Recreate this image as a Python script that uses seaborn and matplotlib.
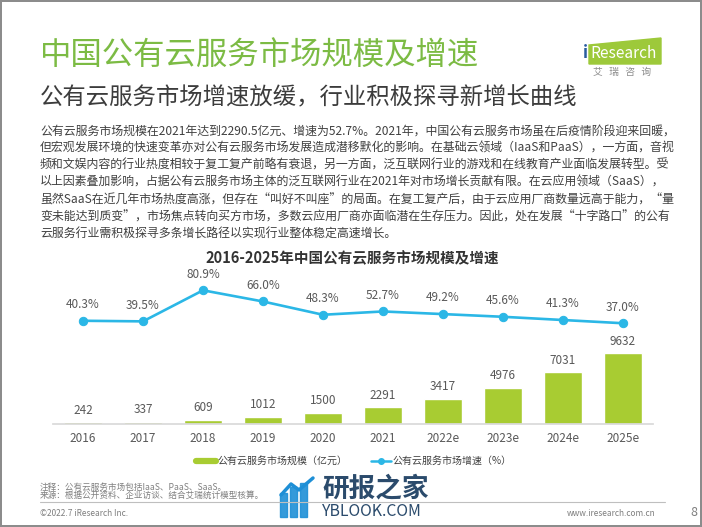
import numpy as np
import seaborn as sns
import matplotlib.pyplot as plt
from matplotlib.lines import Line2D
from matplotlib.patches import Polygon, Rectangle

years = ["2016", "2017", "2018", "2019", "2020", "2021", "2022e", "2023e", "2024e", "2025e"]
market_size = [242, 337, 609, 1012, 1500, 2291, 3417, 4976, 7031, 9632]
growth_rate = [40.3, 39.5, 80.9, 66.0, 48.3, 52.7, 49.2, 45.6, 41.3, 37.0]

title = "中国公有云服务市场规模及增速"
subtitle = "公有云服务市场增速放缓，行业积极探寻新增长曲线"
body_lines = [
    "公有云服务市场规模在2021年达到2290.5亿元、增速为52.7%。2021年，中国公有云服务市场虽在后疫情阶段迎来回暖，",
    "但宏观发展环境的快速变革亦对公有云服务市场发展造成潜移默化的影响。在基础云领域（IaaS和PaaS），一方面，音视",
    "频和文娱内容的行业热度相较于复工复产前略有衰退，另一方面，泛互联网行业的游戏和在线教育产业面临发展转型。受",
    "以上因素叠加影响，占据公有云服务市场主体的泛互联网行业在2021年对市场增长贡献有限。在云应用领域（SaaS），",
    "虽然SaaS在近几年市场热度高涨，但存在“叫好不叫座”的局面。在复工复产后，由于云应用厂商数量远高于能力，“量",
    "变未能达到质变”，市场焦点转向买方市场，多数云应用厂商亦面临潜在生存压力。因此，处在发展“十字路口”的公有",
    "云服务行业需积极探寻多条增长路径以实现行业整体稳定高速增长。",
]
chart_title = "2016-2025年中国公有云服务市场规模及增速"
legend_labels = ["公有云服务市场规模（亿元）", "公有云服务市场增速（%）"]
notes = ["注释：公有云服务市场包括IaaS、PaaS、SaaS。", "来源：根据公开资料、企业访谈、结合艾瑞统计模型核算。"]

GREEN = "#a8cc32"
BLUE = "#2bb7e6"
TEXT = "#404040"
GRAY = "#7f7f7f"

sns.set_theme(style="white")
plt.rcParams["font.family"] = ["Noto Sans CJK SC", "DejaVu Sans"]

W, H = 702, 527
fig = plt.figure(figsize=(W / 100, H / 100), dpi=100)
fig.patch.set_edgecolor("#8c8c8c")
fig.patch.set_linewidth(1.5)


def px(x, y):
    return x / W, 1 - y / H


# header
fig.text(*px(40, 55), title, fontsize=22.6, color="#7cbb44", va="center")
fig.text(*px(40, 98), subtitle, fontsize=16.8, color="#3c3c3c", va="center")

# logo
fig.patches.append(Polygon([px(589, 45), px(661, 38), px(661, 64), px(589, 64)],
                           closed=True, transform=fig.transFigure, color="#9dc93a"))
fig.text(*px(583, 53), "i", fontsize=12, color="#2a5d9e", va="center", fontweight="bold")
fig.text(*px(590, 54), "Research", fontsize=11.2, color="white", va="center")
fig.text(*px(622, 72), "艾   瑞   咨   询", fontsize=7, color="#8c8c8c", va="center", ha="center")

# body text
for i, line in enumerate(body_lines):
    fig.text(*px(40, 131 + i * 17.2), line, fontsize=8.6, color=TEXT, va="center")

fig.text(*px(352, 258), chart_title, fontsize=10.5, color="#333333", va="center",
         ha="center", fontweight="bold")

# chart
ax = fig.add_axes([53 / W, (H - 424) / H, 600 / W, 164 / H])
sns.barplot(x=years, y=market_size, color=GREEN, width=0.63, saturation=1, ax=ax)
ax.set_ylim(0, 22370)
ax.bar_label(ax.containers[0], labels=[str(v) for v in market_size], padding=4,
             fontsize=8.5, color="#595959")
ax.set_xlim(-0.5, len(years) - 0.5)
ax.set_xlabel("")
ax.set_ylabel("")
ax.set_yticks([])
ax.tick_params(axis="x", length=0, pad=6, labelsize=8.5, labelcolor="#595959")
for side in ["left", "right", "top"]:
    ax.spines[side].set_visible(False)
ax.spines["bottom"].set_color("#d9d9d9")
ax.patch.set_alpha(0)

ax2 = ax.twinx()
xpos = np.arange(len(years))
sns.lineplot(x=xpos, y=growth_rate, ax=ax2, color=BLUE, linewidth=1.9, marker="o",
             markersize=6, markeredgecolor=BLUE)
ax2.set_ylim(-97.3, 121.3)
ax2.set_yticks([])
for side in ["left", "right", "top", "bottom"]:
    ax2.spines[side].set_visible(False)
for xi, v in zip(xpos, growth_rate):
    ax2.annotate(f"{v:.1f}%", (xi, v), xytext=(0, 7), textcoords="offset points",
                 ha="center", va="bottom", fontsize=8.5, color="#595959")

handles = [Line2D([], [], color=GREEN, linewidth=4.5),
           Line2D([], [], color=BLUE, linewidth=1.8, marker="o", markersize=4)]
fig.legend(handles, legend_labels, loc="center", bbox_to_anchor=px(354, 461), ncol=2,
           frameon=False, fontsize=7.2, handlelength=2.0, handletextpad=0.15,
           columnspacing=2.4, labelcolor="#404040")

# footer
fig.text(*px(40, 487), notes[0], fontsize=6.2, color=GRAY, va="center")
fig.text(*px(40, 495.5), notes[1], fontsize=6.2, color=GRAY, va="center")
fig.lines.append(Line2D([40 / W, 665 / W], [1 - 502 / H] * 2, transform=fig.transFigure,
                        color="#bfbfbf", linewidth=0.8))
fig.text(*px(40, 514), "©2022.7 iResearch Inc.", fontsize=6, color=GRAY, va="center")
fig.text(*px(656, 514), "www.iresearch.com.cn", fontsize=6, color=GRAY, va="center", ha="right")
fig.text(*px(690, 513), "8", fontsize=9, color=GRAY, va="center")

# watermark
for x0, y0 in [(280, 493), (290, 487), (300, 483)]:
    fig.patches.append(Rectangle(px(x0, 517), 7 / W, (517 - y0) / H,
                                 transform=fig.transFigure, color="#1e8fd6", alpha=0.9))
arrow_x = [281, 291, 299, 313]
arrow_y = [495, 484, 490, 478]
fig.lines.append(Line2D([x / W for x in arrow_x], [1 - y / H for y in arrow_y],
                        transform=fig.transFigure, color="#1e8fd6", linewidth=2.5))
fig.text(*px(322, 489), "研报之家", fontsize=19.2, color="#2b4b6c", va="center", fontweight="bold")
fig.text(*px(322, 511), "YBLOOK.COM", fontsize=11.4, color="#2b4b6c", va="center")

fig.savefig("out.png", dpi=100)
